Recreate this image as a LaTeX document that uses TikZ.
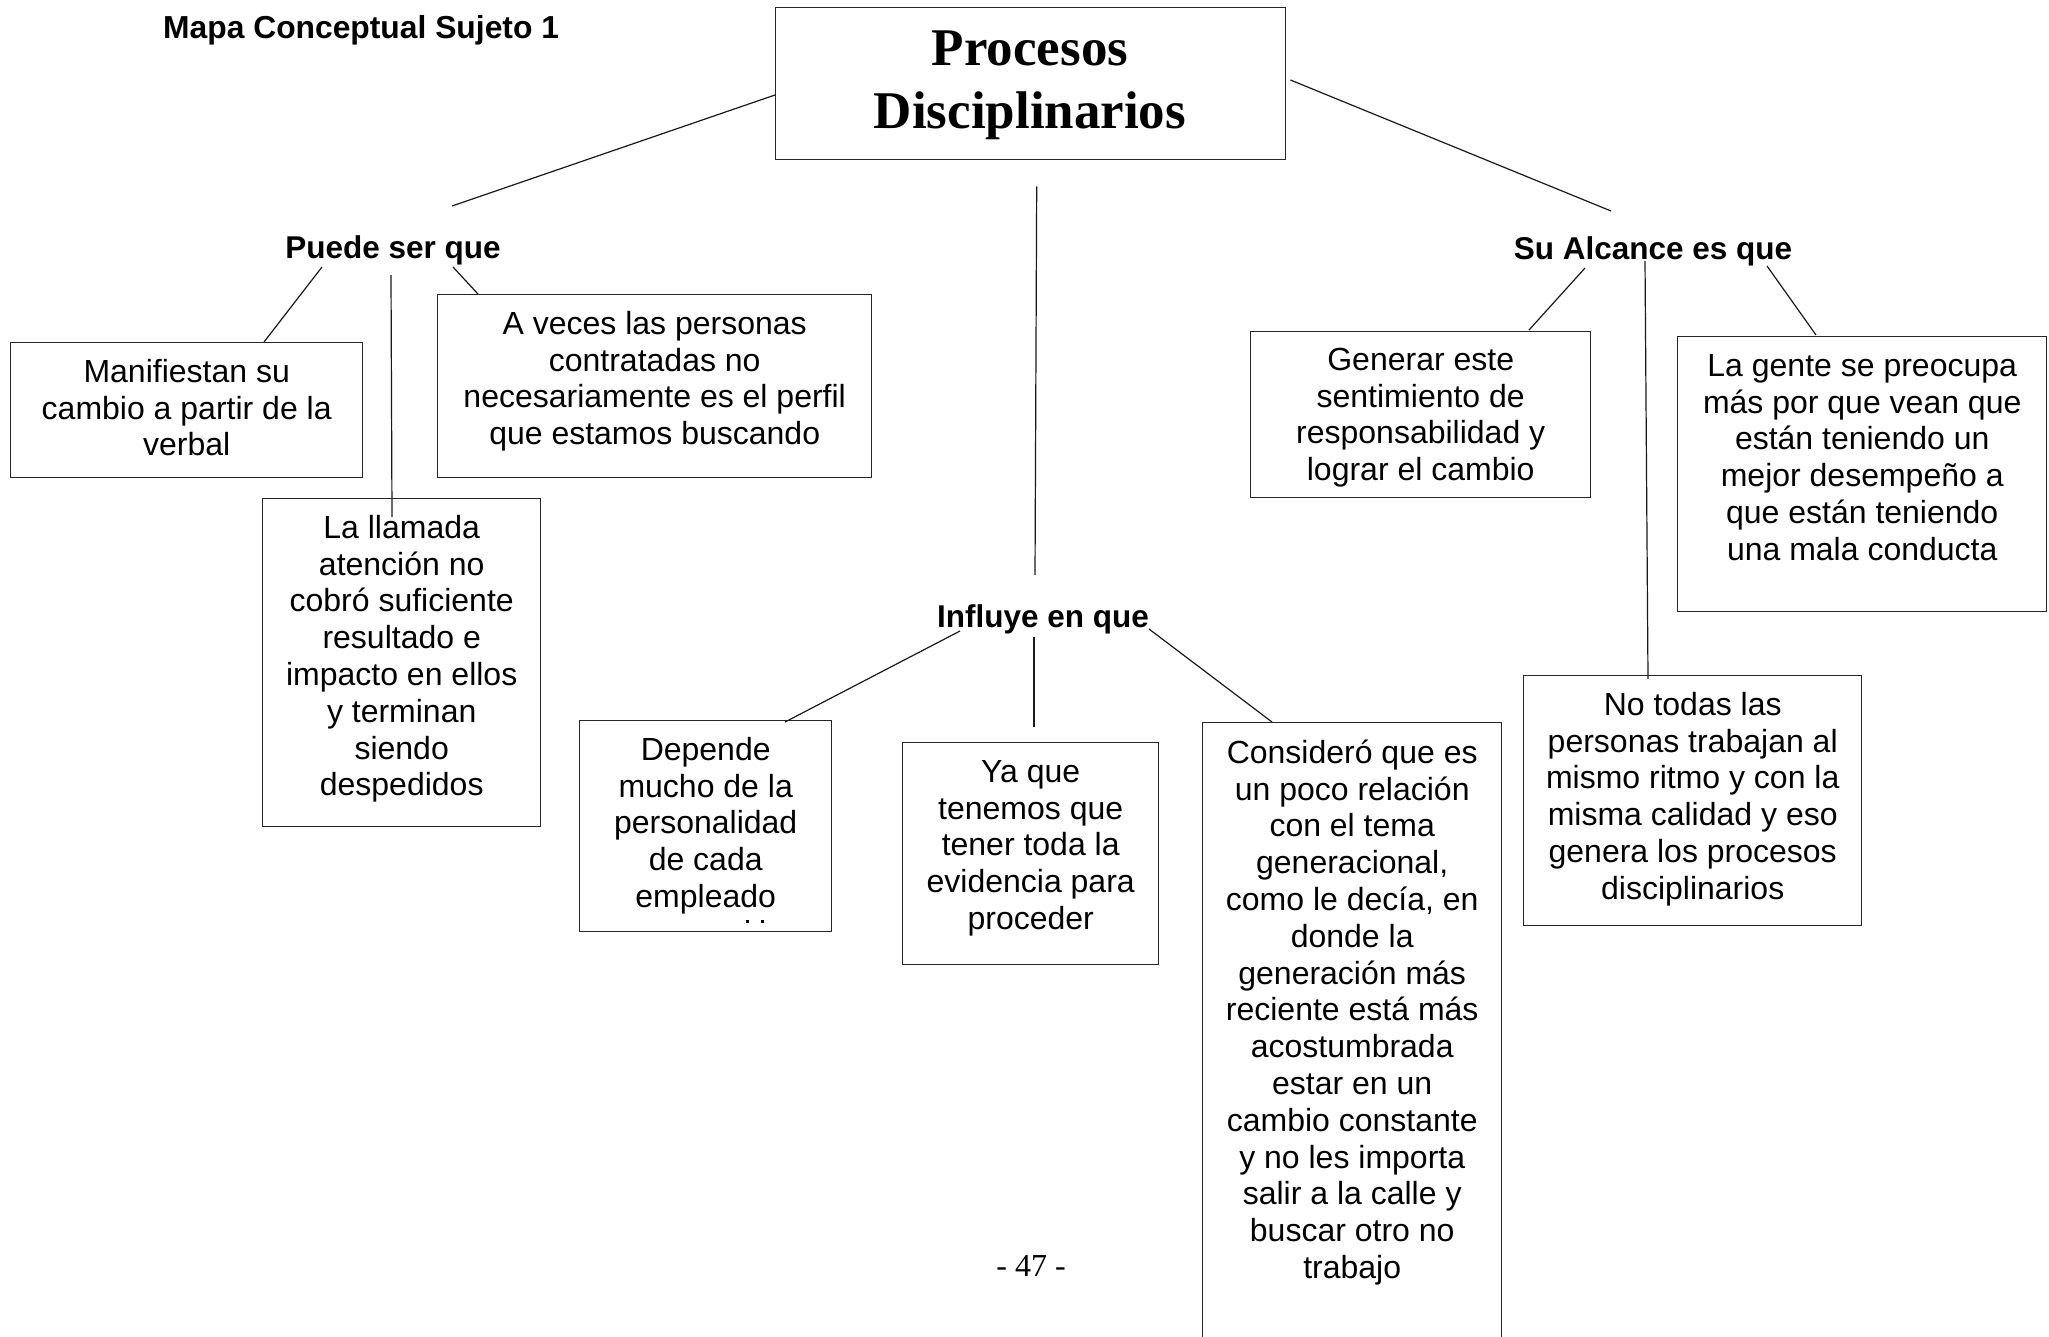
\documentclass[tikz,border=0pt]{standalone}
\usepackage{fontspec}
\setmainfont{Liberation Sans}
\newfontfamily\timesfont{Liberation Serif}
\usetikzlibrary{calc}
\newcommand{\fl}{\rule{0pt}{26pt}}
\begin{document}
\begin{tikzpicture}[x=1pt,y=-1pt,
  box/.style={draw=black!85,line width=1.4pt,rectangle,inner sep=0pt,anchor=north west},
  txt/.style={inner sep=0pt,anchor=north,align=center,font=\fontsize{32}{36.8}\selectfont},
  lbl/.style={inner sep=0pt,anchor=base,font=\bfseries\fontsize{31.5}{36}\selectfont},
  link/.style={line width=1.2pt,black!90}]
\clip (0,0) rectangle (2049,1336);
\fill[white] (0,0) rectangle (2049,1336);

% heading and page number
\node[inner sep=0pt,anchor=base west,font=\bfseries\fontsize{31.8}{36}\selectfont] (heading) at (163,38) {Mapa Conceptual Sujeto 1};
\node[inner sep=0pt,anchor=base,font=\timesfont\fontsize{32}{36}\selectfont] (page) at (1031,1276) {- 47 -};

% central concept
\node[box,minimum width=510pt,minimum height=152pt] (main) at (775,7) {};
\node[inner sep=0pt,anchor=north,align=center,font=\timesfont\bfseries\fontsize{53}{63}\selectfont] (maintxt) at (1030,25) {\rule{0pt}{40pt}Procesos\\Disciplinarios};

% linking phrases
\node[lbl] (puede) at (393,258) {Puede ser que};
\node[lbl] (influye) at (1043,627) {Influye en que};
\node[lbl] (alcance) at (1653,259) {Su Alcance es que};

% boxes
\node[box,minimum width=352pt,minimum height=135pt] (b1) at (10,342) {};
\node[box,minimum width=434pt,minimum height=183pt] (b2) at (437,294) {};
\node[box,minimum width=278pt,minimum height=328pt] (b3) at (262,498) {};
\node[box,minimum width=252pt,minimum height=211pt] (b4) at (579,720) {};
\node[box,minimum width=256pt,minimum height=222pt] (b5) at (902,742) {};
\node[box,minimum width=299pt,minimum height=640pt] (b6) at (1202,722) {};
\node[box,minimum width=340pt,minimum height=166pt] (b7) at (1250,331) {};
\node[box,minimum width=369pt,minimum height=275pt] (b8) at (1677,336) {};
\node[box,minimum width=338pt,minimum height=250pt] (b9) at (1523,675) {};

% box texts
\node[txt] (t1) at ($(b1.north)+(0,14)$) {\fl Manifiestan su\\cambio a partir de la\\verbal};
\node[txt] (t2) at ($(b2.north)+(0,14)$) {\fl A veces las personas\\contratadas no\\necesariamente es el perfil\\que estamos buscando};
\node[txt] (t3) at ($(b3.north)+(0,14)$) {\fl La llamada\\atención no\\cobró suficiente\\resultado e\\impacto en ellos\\y terminan\\siendo\\despedidos};
\node[txt] (t4) at ($(b4.north)+(0,14)$) {\fl Depende\\mucho de la\\personalidad\\de cada\\empleado};
\node[txt] (t5) at ($(b5.north)+(0,14)$) {\fl Ya que\\tenemos que\\tener toda la\\evidencia para\\proceder};
\node[txt] (t6) at ($(b6.north)+(0,15)$) {\fl Consideró que es\\un poco relación\\con el tema\\generacional,\\como le decía, en\\donde la\\generación más\\reciente está más\\acostumbrada\\estar en un\\cambio constante\\y no les importa\\salir a la calle y\\buscar otro no\\trabajo};
\node[txt] (t7) at ($(b7.north)+(0,13)$) {\fl Generar este\\sentimiento de\\responsabilidad y\\lograr el cambio};
\node[txt] (t8) at ($(b8.north)+(0,14)$) {\fl La gente se preocupa\\más por que vean que\\están teniendo un\\mejor desempeño a\\que están teniendo\\una mala conducta};
\node[txt] (t9) at ($(b9.north)+(0,14)$) {\fl No todas las\\personas trabajan al\\mismo ritmo y con la\\misma calidad y eso\\genera los procesos\\disciplinarios};

% clipped marks under the last line of b4
\fill (746,920) rectangle (749,923);
\fill (761,920) rectangle (764,923);

% free ends of the connectors near the linking phrases
\coordinate (pA) at (452,206);
\coordinate (pB) at (1611,211);
\coordinate (pC) at (1035,575);
\coordinate (p1) at (322,267);
\coordinate (p2) at (391,275);
\coordinate (p3) at (453,267);
\coordinate (i1) at (960,631);
\coordinate (i2) at (1034,637);
\coordinate (i3) at (1149,629);
\coordinate (s1) at (1585,268);
\coordinate (s2) at (1645,261);
\coordinate (s3) at (1767,266);

% connectors
\draw[link] ($(main.north west)+(0,88)$) -- (pA);
\draw[link] ($(main.north east)+(4,73)$) -- (pB);
\draw[link] ($(main.south)+(6,26)$) -- (pC);
\draw[link] (p1) -- ($(b1.north west)+(254,0)$);
\draw[link] (p2) -- ($(b3.north west)+(130,19)$);
\draw[link] (p3) -- ($(b2.north west)+(41,0)$);
\draw[link] (i1) -- ($(b4.north west)+(206,2)$);
\draw[link] (i2) -- ($(b5.north west)+(132,-15)$);
\draw[link] (i3) -- ($(b6.north west)+(70,0)$);
\draw[link] (s1) -- ($(b7.north west)+(279,-1)$);
\draw[link] (s2) -- ($(b9.north west)+(125,4)$);
\draw[link] (s3) -- ($(b8.north west)+(139,-1)$);
\end{tikzpicture}
\end{document}
